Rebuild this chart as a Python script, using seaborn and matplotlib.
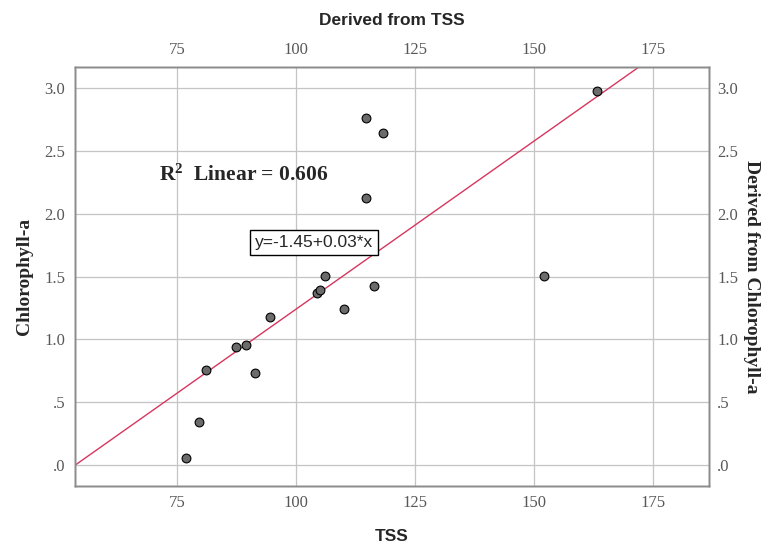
import numpy as np
import pandas as pd
import matplotlib
matplotlib.use("Agg")
import matplotlib.pyplot as plt
import seaborn as sns

# values
tss = [76.8, 79.5, 81.0, 87.4, 89.5, 91.3, 94.4, 104.3, 104.9, 106.0,
       110.0, 116.3, 114.7, 118.1, 114.7, 163.1, 152.0]
chl = [0.053, 0.343, 0.755, 0.935, 0.951, 0.734, 1.175, 1.372, 1.393, 1.505,
       1.244, 1.425, 2.765, 2.645, 2.127, 2.975, 1.502]
x_ticks = [75, 100, 125, 150, 175]
y_ticks = [0.0, 0.5, 1.0, 1.5, 2.0, 2.5, 3.0]
r2_text = r"R$^{2}$  Linear = 0.606"
eq_text = "y=-1.45+0.03*x"

df = pd.DataFrame({"TSS": tss, "Chlorophyll-a": chl})

sns.set_style("white")
plt.rcParams["font.family"] = ["Liberation Serif", "DejaVu Serif"]
plt.rcParams["mathtext.fontset"] = "custom"
plt.rcParams["mathtext.rm"] = "Liberation Serif:bold"
plt.rcParams["mathtext.it"] = "Liberation Serif:bold"
plt.rcParams["mathtext.bf"] = "Liberation Serif:bold"

xlim = (53.5, 186.6)
ylim = (-0.165, 3.165)
tick_col = "#585858"
grid_col = "#c4c4c4"
spine_col = "#8c8c8c"


def yfmt(v):
    s = "%.1f" % v
    return s[1:] if s.startswith("0") else s


fig = plt.figure(figsize=(7.69, 5.45), dpi=100)
ax = fig.add_axes([0.0975, 0.1088, 0.9216 - 0.0975, 0.8765 - 0.1088])
ax.set_xlim(xlim)
ax.set_ylim(ylim)

sns.regplot(data=df, x="TSS", y="Chlorophyll-a", ax=ax, ci=None, truncate=False,
            scatter_kws=dict(s=40, color="#6b6b6b", edgecolors="black", linewidths=0.8, alpha=1, zorder=3),
            line_kws=dict(color="#d6365f", lw=1.0, zorder=2))

ax.set_xlim(xlim)
ax.set_ylim(ylim)
ax.set_xticks(x_ticks)
ax.set_yticks(y_ticks)
ax.set_yticklabels([yfmt(v) for v in y_ticks])
ax.grid(True, color=grid_col, lw=0.9)
ax.set_axisbelow(True)
ax.tick_params(length=0, labelsize=12, labelcolor=tick_col, pad=7)
ax.set_xlabel("TSS", family="Liberation Sans", fontweight="bold", fontsize=12.5, labelpad=13)
ax.set_ylabel("Chlorophyll-a", fontweight="bold", fontsize=14, labelpad=8)
for sp in ax.spines.values():
    sp.set_color(spine_col)
    sp.set_linewidth(1.0)

# top axis
ax_top = ax.twiny()
ax_top.set_xlim(xlim)
ax_top.set_xticks(x_ticks)
ax_top.tick_params(length=0, labelsize=12, labelcolor=tick_col, pad=7)
ax_top.set_xlabel("Derived from TSS", family="Liberation Sans", fontweight="bold", fontsize=12.5, labelpad=12)

# right axis
ax_right = ax.twinx()
ax_right.set_ylim(ylim)
ax_right.set_yticks(y_ticks)
ax_right.set_yticklabels([yfmt(v) for v in y_ticks])
ax_right.tick_params(length=0, labelsize=12, labelcolor=tick_col, pad=6)
ax_right.set_ylabel("Derived from Chlorophyll-a", fontweight="bold", fontsize=14,
                    rotation=270, labelpad=16)
for a in (ax_top, ax_right):
    for sp in a.spines.values():
        sp.set_color(spine_col)
        sp.set_linewidth(1.0)

ax.text(71.2, 2.31, r2_text, fontsize=15.5, fontweight="bold", ha="left", va="center", zorder=5)
ax.text(103.7, 1.77, eq_text, family="Liberation Sans", fontsize=12.5, ha="center", va="center", zorder=5,
        bbox=dict(boxstyle="square,pad=0.3", fc="white", ec="black", lw=1.0))

fig.savefig("out.png", dpi=100)
